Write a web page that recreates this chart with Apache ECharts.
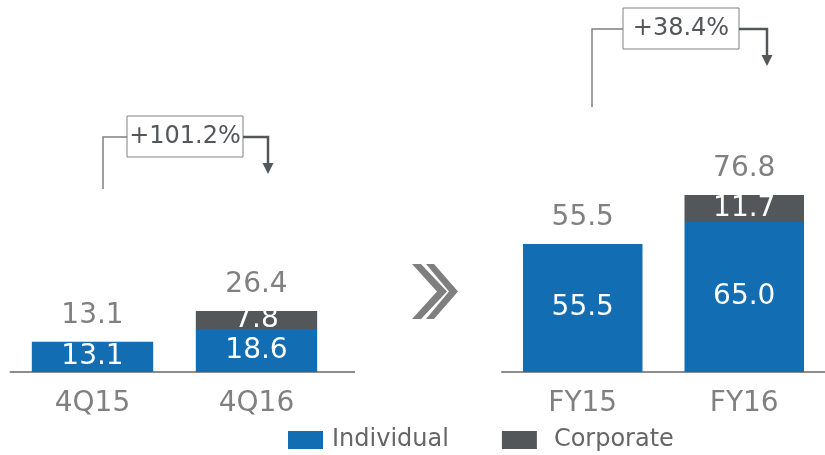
<!DOCTYPE html>
<html>
<head>
<meta charset="utf-8">
<script src="https://cdn.jsdelivr.net/npm/echarts@6/dist/echarts.min.js"></script>
<style>
  html, body { margin: 0; padding: 0; background: #fff; }
  #chart { width: 825px; height: 455px; }
</style>
</head>
<body>
<div id="chart"></div>
<script>
// Quarterly comparison (left panel)
const quarterCats = ['4Q15', '4Q16'];
const quarterIndividual = [13.1, 18.6];
const quarterCorporate = [0, 7.8];
const quarterTotal = [13.1, 26.4];
const quarterGrowth = '+101.2%';

// Full-year comparison (right panel)
const yearCats = ['FY15', 'FY16'];
const yearIndividual = [55.5, 65.0];
const yearCorporate = [0, 11.7];
const yearTotal = [55.5, 76.8];
const yearGrowth = '+38.4%';

const FONT = 'DejaVu Sans';
const BLUE = '#126db3';
const DARK = '#53575a';
const GREY = '#808080';

const fmt1 = v => (v ? Number(v).toFixed(1) : '');

function xAxisFor(idx, cats) {
  return {
    type: 'category', gridIndex: idx, data: cats,
    axisLine: { lineStyle: { color: '#8c8c8c', width: 2 } },
    axisTick: { show: false },
    axisLabel: { fontFamily: FONT, fontSize: 28, color: GREY, margin: 18 }
  };
}
function yAxisFor(idx) {
  return { type: 'value', gridIndex: idx, min: 0, max: 150, show: false };
}
function panelSeries(idx, ind, corp, tot) {
  const stackName = 'stack' + idx;
  return [
    {
      name: 'Individual', type: 'bar', xAxisIndex: idx, yAxisIndex: idx, stack: stackName,
      barCategoryGap: '26%', barGap: '-100%',
      data: ind, itemStyle: { color: BLUE },
      label: { show: true, position: 'inside', color: '#fff', fontFamily: FONT, fontSize: 28,
               formatter: p => fmt1(p.value) }
    },
    {
      name: 'Corporate', type: 'bar', xAxisIndex: idx, yAxisIndex: idx, stack: stackName,
      data: corp, itemStyle: { color: DARK },
      label: { show: true, position: 'inside', color: '#fff', fontFamily: FONT, fontSize: 28,
               formatter: p => fmt1(p.value) }
    },
    {
      name: 'Total', type: 'bar', xAxisIndex: idx, yAxisIndex: idx, silent: true, z: 1,
      data: tot, itemStyle: { color: 'rgba(0,0,0,0)' },
      label: { show: true, position: 'top', distance: 12, color: GREY, fontFamily: FONT, fontSize: 28,
               formatter: p => fmt1(p.value) }
    }
  ];
}

// Bracket with growth box and arrow
function growthBracket(x0, yBottom, yLine, boxX, boxY, boxW, boxH, xArrow, yTip, text) {
  return [
    { type: 'polyline', shape: { points: [[x0, yBottom], [x0, yLine], [boxX, yLine]] },
      style: { stroke: GREY, lineWidth: 1.5, fill: null } },
    { type: 'rect', shape: { x: boxX, y: boxY, width: boxW, height: boxH },
      style: { stroke: GREY, lineWidth: 1, fill: '#fff' } },
    { type: 'text', x: boxX + boxW / 2, y: boxY + boxH / 2,
      style: { text: text, fontFamily: FONT, fontSize: 24, fill: DARK, align: 'center', verticalAlign: 'middle' } },
    { type: 'polyline', shape: { points: [[boxX + boxW, yLine], [xArrow, yLine], [xArrow, yTip - 9]] },
      style: { stroke: DARK, lineWidth: 2.5, fill: null } },
    { type: 'polygon', shape: { points: [[xArrow - 5.5, yTip - 11], [xArrow + 5.5, yTip - 11], [xArrow, yTip]] },
      style: { fill: DARK } }
  ];
}

const chart = echarts.init(document.getElementById('chart'), null, { renderer: 'canvas' });
chart.setOption({
  animation: false,
  textStyle: { fontFamily: FONT },
  legend: {
    data: [
      { name: 'Individual', textStyle: { padding: [0, 0, 0, 4] } },
      { name: 'Corporate', textStyle: { padding: [0, 0, 0, 12] } }
    ],
    left: 283, top: 423,
    itemWidth: 35, itemHeight: 18, itemGap: 53,
    icon: 'rect',
    textStyle: { fontFamily: FONT, fontSize: 24, color: '#666' }
  },
  grid: [
    { left: 10.5, width: 328, top: 26, height: 346 },
    { left: 502, width: 328, top: 26, height: 346 }
  ],
  xAxis: [xAxisFor(0, quarterCats), xAxisFor(1, yearCats)],
  yAxis: [yAxisFor(0), yAxisFor(1)],
  series: [
    ...panelSeries(0, quarterIndividual, quarterCorporate, quarterTotal),
    ...panelSeries(1, yearIndividual, yearCorporate, yearTotal)
  ],
  graphic: [
    // baseline continuation of the left panel
    { type: 'line', shape: { x1: 338, y1: 372, x2: 355, y2: 372 },
      style: { stroke: '#8c8c8c', lineWidth: 2 } },
    // double chevron between panels
    { type: 'polygon', shape: { points: [[412, 264], [421, 264], [447, 291.5], [421, 319], [412, 319], [437, 291.5]] },
      style: { fill: '#7f7f7f' } },
    { type: 'polygon', shape: { points: [[426, 264], [434, 264], [458, 291.5], [434, 319], [426, 319], [449, 291.5]] },
      style: { fill: '#7f7f7f' } },
    ...growthBracket(103, 189, 137, 127, 116, 116, 41, 268, 174, quarterGrowth),
    ...growthBracket(592, 107, 29, 623, 8, 116, 41, 767, 66, yearGrowth)
  ]
});
</script>
</body>
</html>
